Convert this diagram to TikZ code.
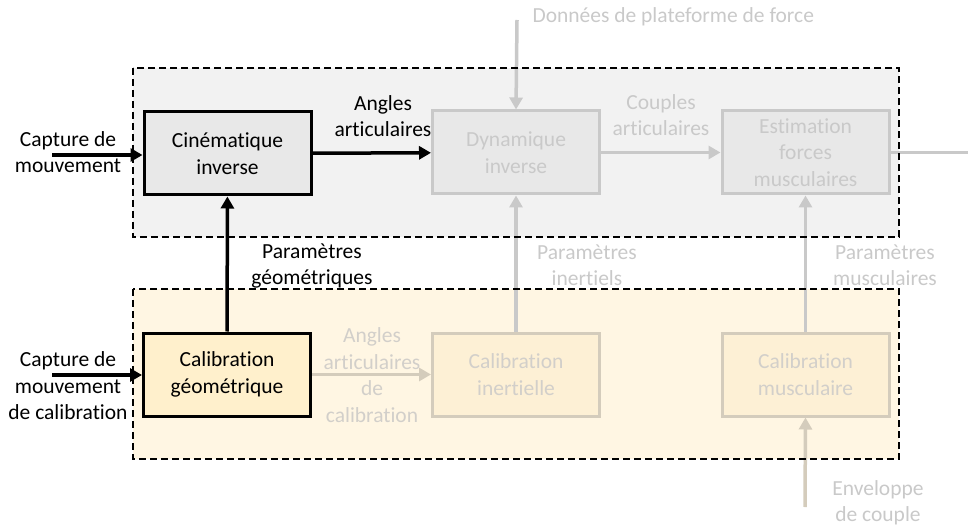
\documentclass[tikz,border=0pt]{standalone}
\usepackage{fontspec}
\setmainfont{Carlito}[Ligatures=NoCommon]
\usetikzlibrary{arrows.meta}

\definecolor{grpgray}{HTML}{F2F2F2}
\definecolor{grpyellow}{HTML}{FFF6E3}
\definecolor{boxgray}{HTML}{E8E8E8}
\definecolor{boxyellow}{HTML}{FFF0CC}
\definecolor{fadegray}{HTML}{C9C9C9}
\definecolor{fadetan}{HTML}{D4CCBC}
\definecolor{fadetext}{HTML}{D2CFCA}
\definecolor{fadeyellow}{HTML}{FDF0D5}

\begin{document}
\begin{tikzpicture}[x=1pt,y=-1pt,
	every node/.style={font=\fontsize{21.5}{26.5}\selectfont, align=center},
	block/.style={draw, line width=3pt, minimum width=167pt, minimum height=83pt, inner sep=0pt},
	group/.style={dashed, line width=1.6pt, dash pattern=on 7pt off 4pt},
	live/.style={-{Triangle[length=12pt,width=13pt]}, line width=3.5pt},
	dim/.style={-{Triangle[length=12pt,width=13pt]}, line width=3.5pt, fadegray}]
	\useasboundingbox (0,0) rectangle (968,526);
	\fill[grpgray] (133,68) rectangle (899,237);
	\fill[grpyellow] (133,289) rectangle (899,459);
	\node[block, fill=boxgray] (cine) at (227.5,153.5) {Cinématique\\inverse};
	\node[block, draw=fadegray, fill=boxgray, text=fadegray] (dyn) at (516,152.5) {Dynamique\\inverse};
	\node[block, draw=fadegray, fill=boxgray, text=fadegray] (est) at (805.5,152.5) {Estimation\\forces\\musculaires};
	\node[block, fill=boxyellow] (calgeo) at (227,374.5) {Calibration\\géométrique};
	\node[block, draw=fadetan, fill=fadeyellow, text=fadetext] (calin) at (516,374.5) {Calibration\\inertielle};
	\node[block, draw=fadetan, fill=fadeyellow, text=fadetext] (calmus) at (805.5,374.5) {Calibration\\musculaire};
	\coordinate (inmov) at (52,155);
	\coordinate (incal) at (52,375);
	\coordinate (force) at (517,20);
	\coordinate (out) at (990,152.5);
	\coordinate (env) at (805,507);
	\draw[dim] (force) -- (dyn.north);
	\draw[dim] (dyn) -- (est);
	\draw[dim] (est) -- (out);
	\draw[dim] (calin) -- (dyn);
	\draw[dim] (calmus) -- (est);
	\draw[dim, fadetan] (env) -- (calmus.south);
	\draw[dim, fadetan] (calgeo) -- (calin);
	\draw[group] (133,68) rectangle (899,237);
	\draw[group] (133,289) rectangle (899,459);
	\draw[live] (inmov) -- (cine.west |- inmov);
	\draw[live] (incal) -- (calgeo.west |- incal);
	\draw[live] (cine) -- (dyn);
	\draw[live] (calgeo) -- (cine);
	\node (lmov) at (68,152) {Capture de\\mouvement};
	\node (lcal) at (68,386) {Capture de\\mouvement\\de calibration};
	\node (lang) at (383,116) {Angles\\articulaires};
	\node (lgeo) at (312,266) {Paramètres\\géométriques};
	\node[fadegray] (lcpl) at (661,115) {Couples\\articulaires};
	\node[fadegray, anchor=west] (lforce) at (529,17) {Données de plateforme de force};
	\node[fadegray] (lin) at (587,265) {Paramètres\\inertiels};
	\node[fadegray] (lmus) at (885,265) {Paramètres\\musculaires};
	\node[fadetext] (langcal) at (372,375) {Angles\\articulaires\\de\\calibration};
	\node[fadegray] (lenv) at (878,503) {Enveloppe\\de couple};
\end{tikzpicture}
\end{document}
